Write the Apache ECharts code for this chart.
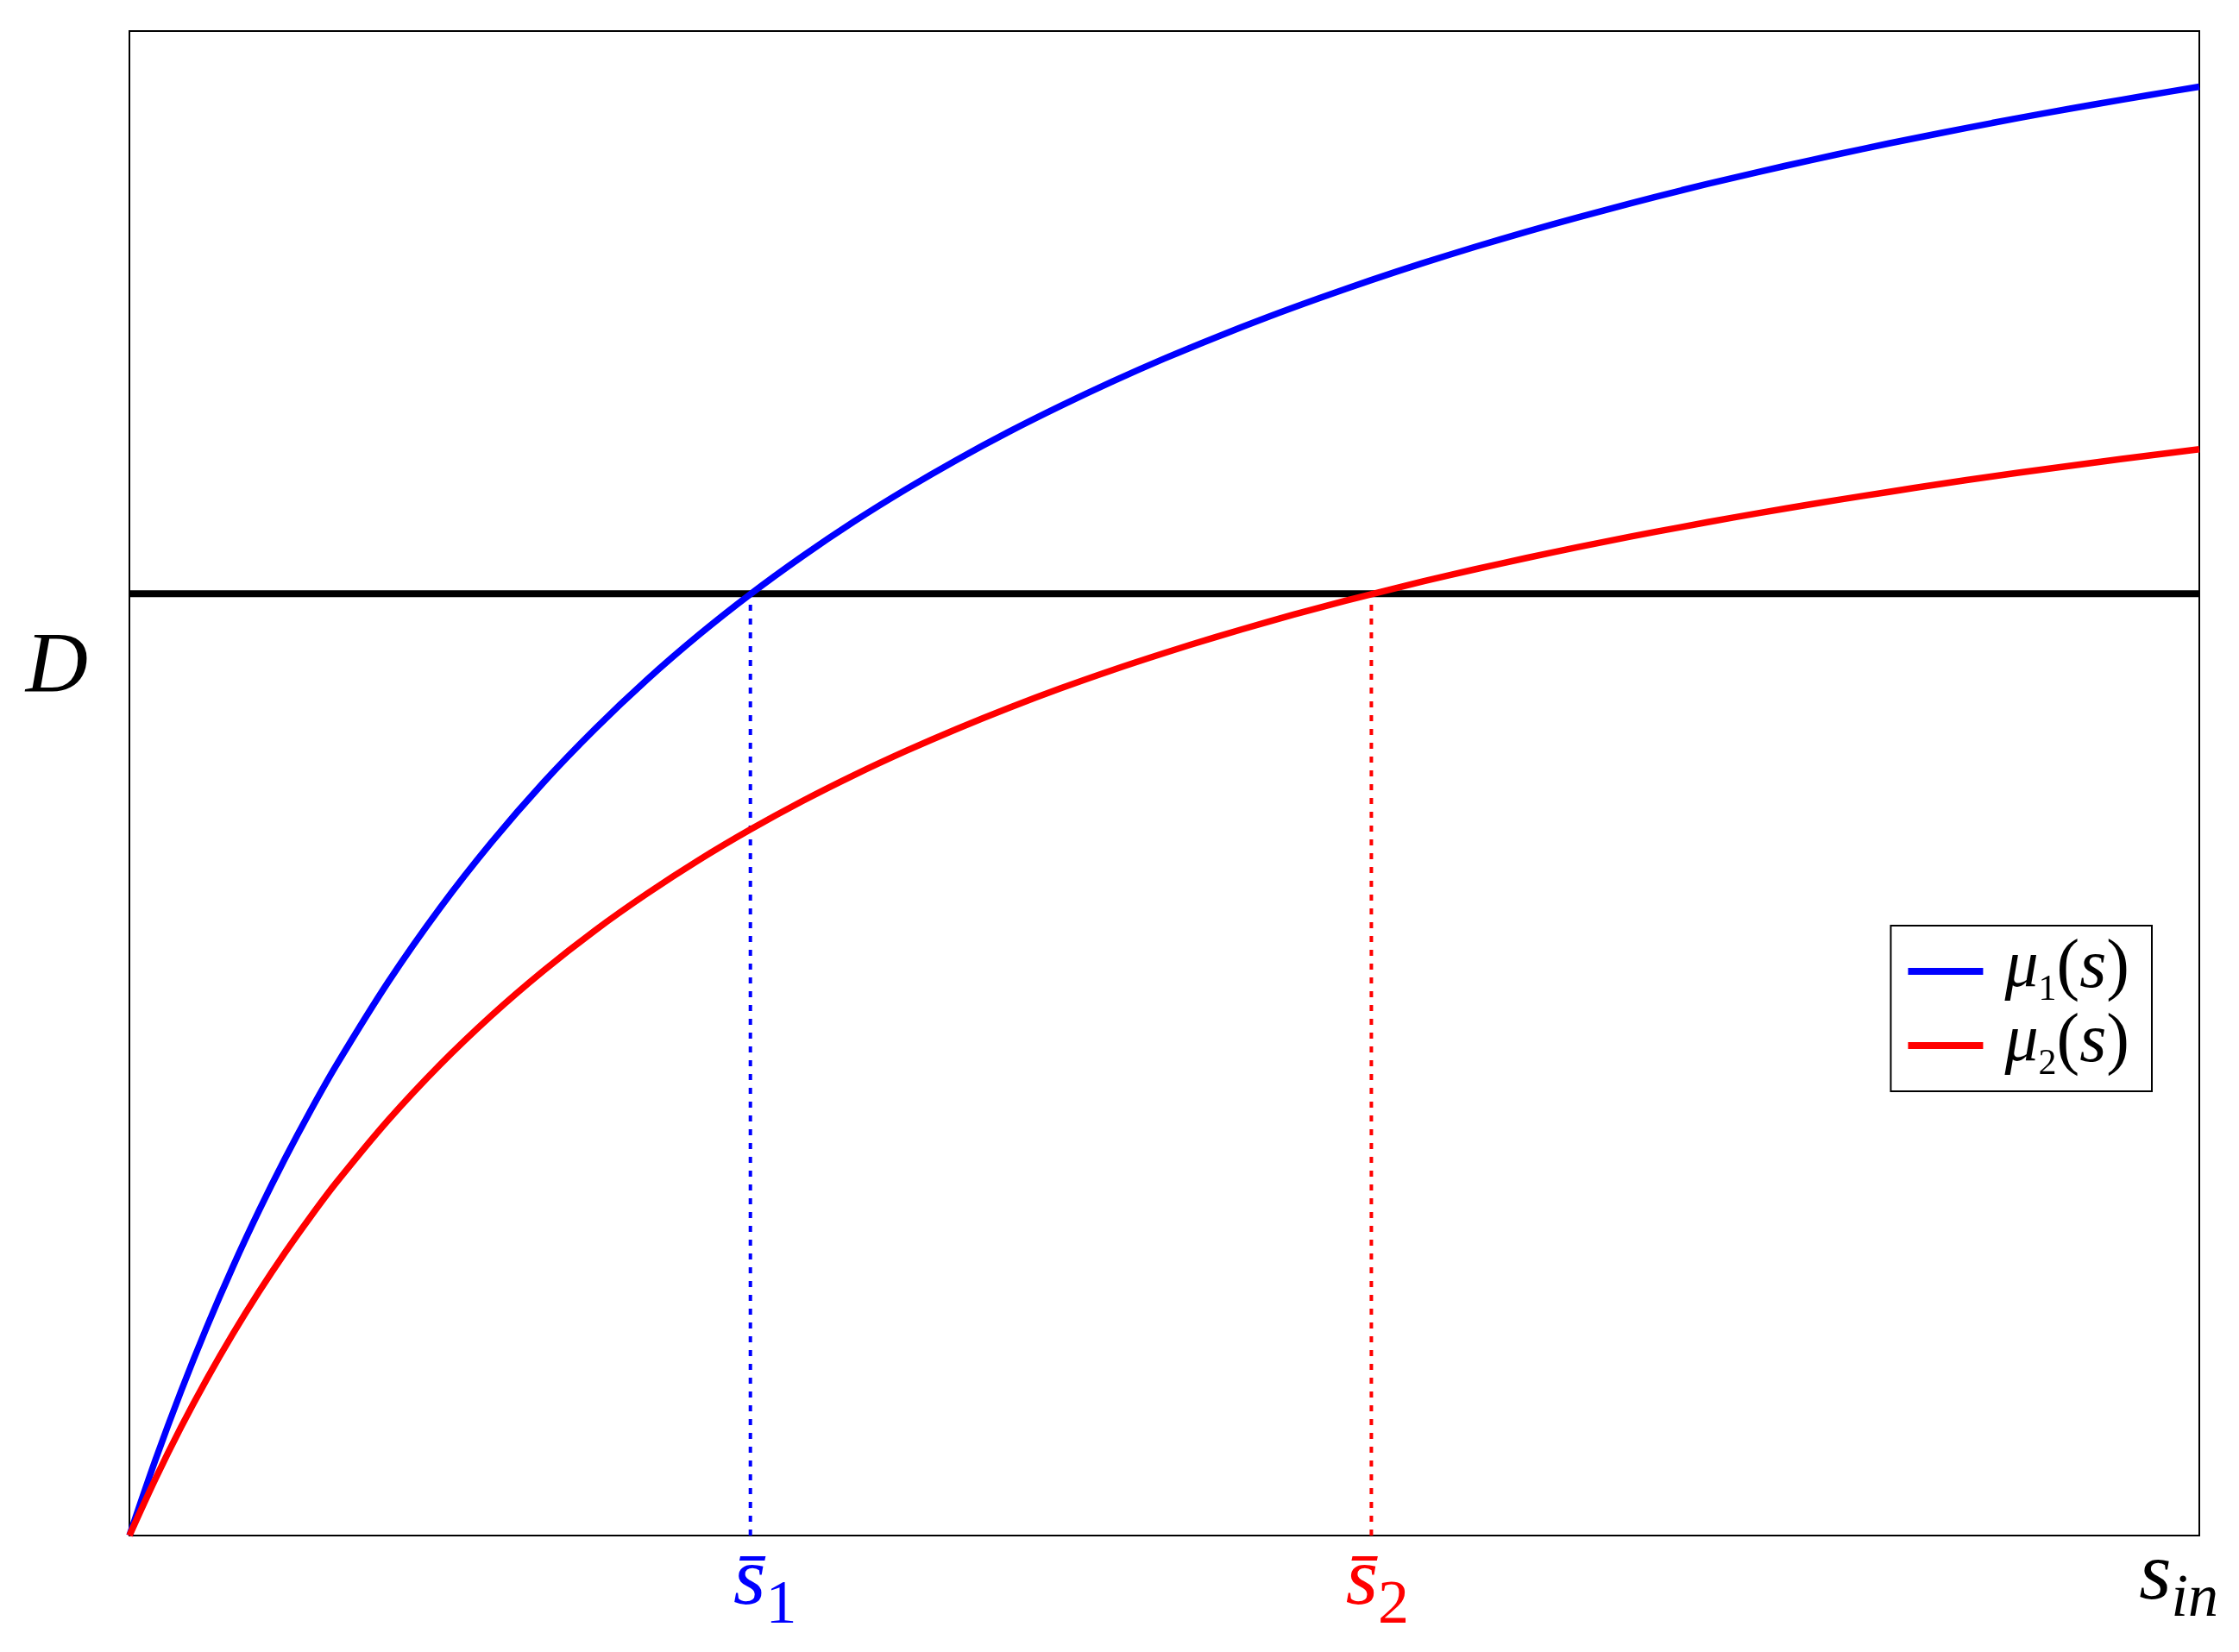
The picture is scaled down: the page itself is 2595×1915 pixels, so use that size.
<!DOCTYPE html>
<html>
<head>
<meta charset="utf-8">
<script src="https://cdn.jsdelivr.net/npm/echarts@6/dist/echarts.min.js"></script>
<style>
  html, body { margin: 0; padding: 0; background: #fff; }
  #chart { width: 2595px; height: 1915px; }
</style>
</head>
<body>
<div id="chart"></div>
<script>
// substrate concentration samples (x), axis 0..1
var sValues = [0, 0.0125, 0.025, 0.0375, 0.05, 0.0625, 0.075, 0.0875, 0.1,
  0.125, 0.15, 0.175, 0.2, 0.225, 0.25, 0.275, 0.3, 0.325, 0.35, 0.375, 0.4,
  0.425, 0.45, 0.475, 0.5, 0.525, 0.55, 0.575, 0.6, 0.625, 0.65, 0.675, 0.7,
  0.725, 0.75, 0.775, 0.8, 0.825, 0.85, 0.875, 0.9, 0.925, 0.95, 0.975, 1.0];
// growth rate curves (y), axis 0..1
var mu1Values = [0, 0.0500, 0.0962, 0.1390, 0.1787, 0.2156, 0.2501, 0.2824, 0.3127,
  0.3679, 0.4170, 0.4609, 0.5005, 0.5362, 0.5688, 0.5985, 0.6257, 0.6507, 0.6739, 0.6953, 0.7152,
  0.7337, 0.7509, 0.7671, 0.7823, 0.7965, 0.8099, 0.8225, 0.8345, 0.8458, 0.8565, 0.8666, 0.8762,
  0.8854, 0.8942, 0.9025, 0.9104, 0.9180, 0.9253, 0.9322, 0.9389, 0.9453, 0.9514, 0.9573, 0.9630];
var mu2Values = [0, 0.0375, 0.0722, 0.1043, 0.1341, 0.1618, 0.1877, 0.2119, 0.2347,
  0.2761, 0.3129, 0.3458, 0.3754, 0.4023, 0.4266, 0.4489, 0.4693, 0.4881, 0.5054, 0.5214, 0.5363,
  0.5502, 0.5632, 0.5753, 0.5866, 0.5973, 0.6073, 0.6168, 0.6257, 0.6342, 0.6422, 0.6498, 0.6570,
  0.6639, 0.6704, 0.6767, 0.6826, 0.6883, 0.6937, 0.6990, 0.7040, 0.7087, 0.7133, 0.7178, 0.7220];
// dilution rate level and break-even concentrations
var dilution = 0.626;
var sBar = [0.3, 0.6];

var seriesNames = ['mu1', 'mu2'];
var legendText = {
  mu1: '{mu|\u03bc}{sub|1}{rm|(}{it|s}{rm|)}',
  mu2: '{mu|\u03bc}{sub|2}{rm|(}{it|s}{rm|)}'
};

var serif = '"Liberation Serif", "DejaVu Serif", serif';

function pairs(xs, ys) {
  var out = [];
  for (var i = 0; i < xs.length; i++) {
    out.push([xs[i], ys[i]]);
  }
  return out;
}

// main glyph sits on top of the line, subscript hangs below it
function mainStyle(color, size, italic, padLeft) {
  var st = {
    fontFamily: serif, fontStyle: italic ? 'italic' : 'normal', fontSize: size,
    color: color, lineHeight: size, verticalAlign: 'top'
  };
  if (padLeft) st.padding = [0, 0, 0, padLeft];
  return st;
}
function subStyle(color, size, drop, italic) {
  var st = {
    fontFamily: serif, fontStyle: italic ? 'italic' : 'normal', fontSize: size,
    color: color, lineHeight: size + drop, verticalAlign: 'bottom'
  };
  if (drop) st.padding = [drop, 0, 0, 0];
  return st;
}

var chart = echarts.init(document.getElementById('chart'));

chart.setOption({
  animation: false,
  backgroundColor: '#fff',
  grid: {
    left: 150, right: 46, top: 36, bottom: 135,
    show: true,
    borderColor: '#000',
    borderWidth: 2
  },
  legend: {
    data: seriesNames,
    orient: 'vertical',
    right: 101,
    top: 1073,
    icon: 'rect',
    itemWidth: 87,
    itemHeight: 8,
    itemGap: 0,
    padding: [10, 26, 10, 20],
    borderColor: '#000',
    borderWidth: 2,
    backgroundColor: '#fff',
    formatter: function (name) {
      return legendText[name];
    },
    textStyle: {
      rich: {
        mu: mainStyle('#000', 78, true, 20),
        it: mainStyle('#000', 80, true),
        rm: mainStyle('#000', 80, false),
        sub: subStyle('#000', 42, 44, false)
      }
    }
  },
  xAxis: {
    type: 'value',
    min: 0,
    max: 1,
    axisLine: { show: false },
    axisTick: { show: false },
    splitLine: { show: false },
    name: '{s|s}{sub|in}',
    nameLocation: 'end',
    nameGap: 22,
    nameTextStyle: {
      align: 'right',
      verticalAlign: 'top',
      rich: {
        s: mainStyle('#000', 96, true),
        sub: subStyle('#000', 70, 40, true)
      }
    },
    axisLabel: {
      customValues: sBar,
      margin: 6,
      formatter: function (val) {
        return val < 0.45 ? '{b1|s\u0304}{n1|1}' : '{b2|s\u0304}{n2|2}';
      },
      rich: {
        b1: mainStyle('#0000ff', 96, true, 34),
        n1: subStyle('#0000ff', 72, 40, false),
        b2: mainStyle('#ff0000', 96, true, 14),
        n2: subStyle('#ff0000', 72, 40, false)
      }
    }
  },
  yAxis: {
    type: 'value',
    min: 0,
    max: 1,
    axisLine: { show: false },
    axisTick: { show: false },
    splitLine: { show: false },
    axisLabel: {
      customValues: [dilution],
      margin: 48,
      verticalAlign: 'top',
      padding: [36, 0, 0, 0],
      fontFamily: serif,
      fontStyle: 'italic',
      fontSize: 100,
      color: '#000',
      formatter: function () {
        return 'D';
      }
    }
  },
  series: [
    {
      name: 'D',
      type: 'line',
      data: [[0, dilution], [1, dilution]],
      showSymbol: false,
      silent: true,
      lineStyle: { color: '#000', width: 8 },
      z: 2
    },
    {
      name: 'sbar1',
      type: 'line',
      data: [[sBar[0], 0], [sBar[0], dilution]],
      showSymbol: false,
      silent: true,
      lineStyle: { color: '#0000ff', width: 4, type: [7, 9] },
      z: 1
    },
    {
      name: 'sbar2',
      type: 'line',
      data: [[sBar[1], 0], [sBar[1], dilution]],
      showSymbol: false,
      silent: true,
      lineStyle: { color: '#ff0000', width: 4, type: [7, 9] },
      z: 1
    },
    {
      name: 'mu1',
      type: 'line',
      data: pairs(sValues, mu1Values),
      smooth: 0.3,
      showSymbol: false,
      color: '#0000ff',
      lineStyle: { color: '#0000ff', width: 7.5 },
      z: 3
    },
    {
      name: 'mu2',
      type: 'line',
      data: pairs(sValues, mu2Values),
      smooth: 0.3,
      showSymbol: false,
      color: '#ff0000',
      lineStyle: { color: '#ff0000', width: 7.5 },
      z: 3
    }
  ]
});
</script>
</body>
</html>
